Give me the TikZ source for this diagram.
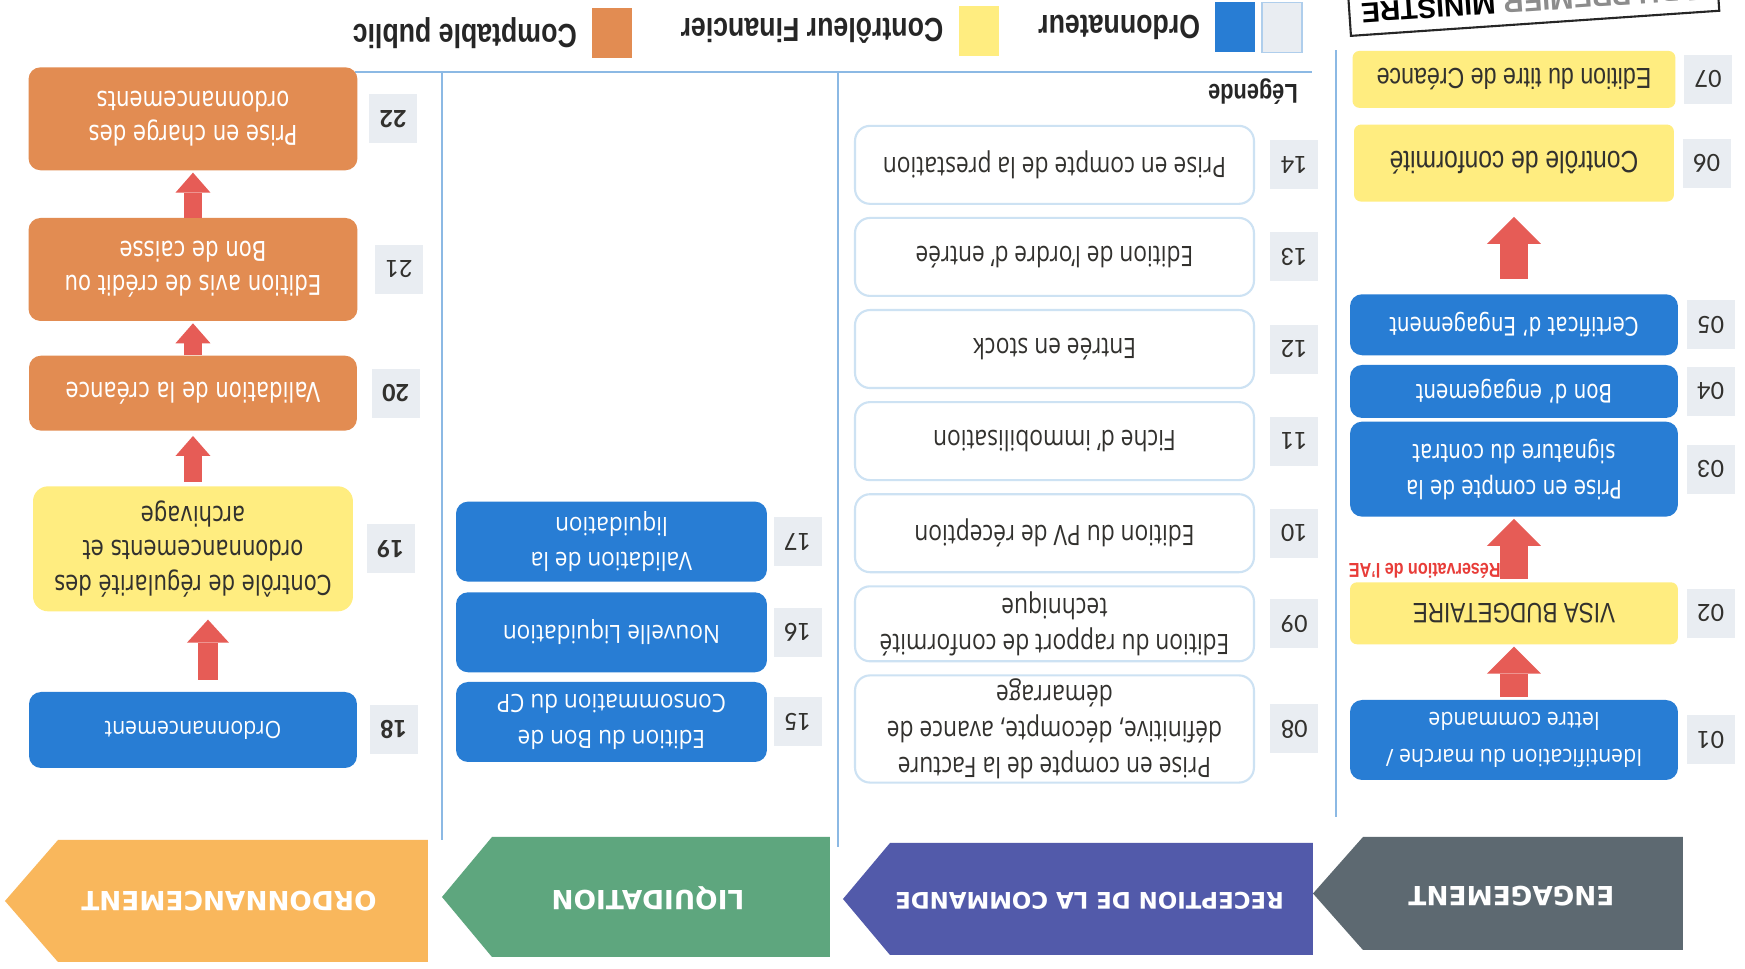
\documentclass[tikz,border=0pt]{standalone}
\usepackage{fontspec}
\setmainfont{Open Sans}
\newfontfamily\recfont[FakeStretch=0.81]{Open Sans}
\newfontfamily\liqfont[FakeStretch=0.9]{Open Sans}
\newfontfamily\verfont[FakeStretch=0.78]{DejaVu Sans}
\newfontfamily\arifont[FakeStretch=0.8]{Liberation Sans}
\newfontfamily\stampfont{Liberation Sans}
\newfontfamily\bandfont{DejaVu Sans}
\newfontfamily\numfont{Carlito}
\usetikzlibrary{positioning,arrows.meta}

\definecolor{ordoblue}{RGB}{40,125,212}
\definecolor{cfyellow}{RGB}{255,237,128}
\definecolor{cporange}{RGB}{226,140,82}
\definecolor{flowred}{RGB}{230,92,86}
\definecolor{aered}{RGB}{232,60,56}
\definecolor{badgegray}{RGB}{233,237,242}
\definecolor{rulecol}{RGB}{140,185,228}
\definecolor{recline}{RGB}{205,226,243}
\definecolor{darktext}{RGB}{50,49,46}
\definecolor{engband}{RGB}{93,105,113}
\definecolor{recband}{RGB}{82,90,170}
\definecolor{liqband}{RGB}{94,166,126}
\definecolor{ordband}{RGB}{249,183,92}

\tikzset{
  ordobox/.style={rounded corners=0.24cm, fill=ordoblue, text=white, align=center, inner sep=2pt},
  cfbox/.style={rounded corners=0.14cm, fill=cfyellow, text=darktext, align=center, inner sep=2pt},
  cpbox/.style={rounded corners=0.24cm, fill=cporange, text=white, align=center, inner sep=2pt},
  recbox/.style={rounded corners=0.3cm, fill=white, draw=recline, line width=1.2pt, text=darktext,
    align=center, inner sep=2pt, minimum width=7.98cm, font=\recfont\fontsize{16}{20.5}\selectfont},
  badge/.style={fill=badgegray, minimum width=0.96cm, minimum height=0.98cm, inner sep=0pt,
    text=darktext, font=\numfont\fontsize{15}{15}\selectfont},
  engtext/.style={font=\verfont\fontsize{14.5}{20.5}\selectfont},
  ordtext/.style={font=\verfont\fontsize{15.5}{19.5}\selectfont},
  liqtext/.style={font=\liqfont\fontsize{14.3}{20}\selectfont},
  flow/.style={draw=flowred, line width=0.36cm, -{Triangle[length=0.4cm, width=0.7cm, line width=0pt]}},
  midflow/.style={draw=flowred, line width=0.4cm, -{Triangle[length=0.46cm, width=0.84cm, line width=0pt]}},
  bigflow/.style={draw=flowred, line width=0.56cm, -{Triangle[length=0.54cm, width=1.08cm, line width=0pt]}},
  bandtitle/.style={text=white, inner sep=0pt, font=\bandfont\bfseries\fontsize{15}{15}\selectfont},
  sepline/.style={draw=rulecol, line width=1pt},
  swatch/.style={minimum width=0.8cm, minimum height=1cm, inner sep=0pt},
  legendtext/.style={inner sep=0pt, text=black!85, font=\arifont\bfseries\fontsize{19}{19}\selectfont},
}

\begin{document}
\begin{tikzpicture}[x=0.02cm, y=0.02cm]
\begin{scope}[rotate=180, transform shape]
  \useasboundingbox (0,0) rectangle (1745,-969);
  \fill[white] (0,0) rectangle (1745,-969);
  \clip (0,0) rectangle (1745,-969);

  % phase banners
  \fill[engband] (62,-19) -- (382,-19) -- (432,-75.5) -- (382,-132) -- (62,-132) -- cycle;
  \fill[recband] (432,-14) -- (855,-14) -- (902,-70) -- (855,-126) -- (432,-126) -- cycle;
  \fill[liqband] (915,-12) -- (1253,-12) -- (1303,-72) -- (1253,-132) -- (915,-132) -- cycle;
  \fill[ordband] (1317,-7) -- (1687,-7) -- (1740,-68) -- (1687,-129) -- (1317,-129) -- cycle;
  \node[bandtitle] (engtitle) at (233.5,-73) {ENGAGEMENT};
  \node[bandtitle, font=\bandfont\bfseries\fontsize{13}{13}\selectfont] (rectitle) at (655.5,-68) {RECEPTION DE LA COMMANDE};
  \node[bandtitle] (liqtitle) at (1097,-71) {LIQUIDATION};
  \node[bandtitle] (ordtitle) at (1516,-68) {ORDONNANCEMENT};

  % column rules and legend rule
  \draw[sepline] (409,-152) -- (409,-919);
  \draw[sepline] (907,-122) -- (907,-897);
  \draw[sepline] (1303,-129) -- (1303,-897);
  \draw[sepline] (433,-897) -- (1390,-897);

  % engagement
  \node[ordobox, liqtext, font=\liqfont\fontsize{13.5}{21}\selectfont, minimum width=6.56cm, minimum height=1.6cm] (b01) at (231,-229) {Identification du marche /\\lettre commande};
  \node[cfbox, font=\arifont\fontsize{16}{19}\selectfont, minimum width=6.56cm, minimum height=1.24cm, below=1.1cm of b01] (b02) {VISA BUDGETAIRE};
  \node[ordobox, engtext, minimum width=6.56cm, minimum height=1.9cm, below=1.3cm of b02] (b03) {Prise en compte de la\\signature du contrat};
  \node[ordobox, engtext, minimum width=6.56cm, minimum height=1.06cm, below=0.06cm of b03] (b04) {Bon d’ engagement};
  \node[ordobox, engtext, minimum width=6.56cm, minimum height=1.22cm, below=0.18cm of b04] (b05) {Certificat d’ Engagement};
  \node[cfbox, font=\arifont\fontsize{17.5}{21}\selectfont, minimum width=6.4cm, minimum height=1.54cm, below=1.84cm of b05] (b06) {Contrôle de conformité};
  \node[cfbox, font=\arifont\fontsize{16.5}{20}\selectfont, minimum width=6.46cm, minimum height=1.14cm, below=0.32cm of b06] (b07) {Edition du titre de Créance};

  \node[badge, left=0.16cm of b01] (n01) {01};
  \node[badge, left=0.16cm of b02] (n02) {02};
  \node[badge, left=0.16cm of b03] (n03) {03};
  \node[badge, left=0.16cm of b04] (n04) {04};
  \node[badge, left=0.16cm of b05] (n05) {05};
  \node[badge, left=0.16cm of b06] (n06) {06};
  \node[badge, left=0.16cm of b07] (n07) {07};

  \draw[bigflow, shorten <=0.06cm, shorten >=0.04cm] (b01.south) -- (b02.north);
  \draw[bigflow, shorten <=0.06cm, shorten >=0.04cm] (b02.south) -- (b03.north);
  \draw[bigflow, shorten <=0.3cm, shorten >=0.3cm] (b05.south) -- (b06.north);
  \node[anchor=north west, inner sep=0pt, text=aered, font=\arifont\bfseries\fontsize{11.5}{11.5}\selectfont]
    (aelabel) at ([xshift=0.26cm, yshift=-0.06cm]b02.south) {Réservation de l’AE};

  % reception de la commande
  \node[recbox, minimum height=2.12cm] (r08) at (690.5,-240) {Prise en compte de la Facture\\définitive, décompte, avance de\\démarrage};
  \node[recbox, minimum height=1.5cm, below=0.24cm of r08] (r09) {Edition du rapport de conformité\\technique};
  \node[recbox, minimum height=1.56cm, below=0.24cm of r09] (r10) {Edition du PV de réception};
  \node[recbox, minimum height=1.56cm, below=0.24cm of r10] (r11) {Fiche d’ immobilisation};
  \node[recbox, minimum height=1.56cm, below=0.24cm of r11] (r12) {Entrée en stock};
  \node[recbox, minimum height=1.56cm, below=0.24cm of r12] (r13) {Edition de l’ordre d’ entrée};
  \node[recbox, minimum height=1.56cm, below=0.24cm of r13] (r14) {Prise en compte de la prestation};

  \node[badge, left=0.3cm of r08] (n08) {08};
  \node[badge, left=0.3cm of r09] (n09) {09};
  \node[badge, left=0.3cm of r10] (n10) {10};
  \node[badge, left=0.3cm of r11] (n11) {11};
  \node[badge, left=0.3cm of r12] (n12) {12};
  \node[badge, left=0.3cm of r13] (n13) {13};
  \node[badge, left=0.3cm of r14] (n14) {14};

  % liquidation
  \node[ordobox, liqtext, minimum width=6.22cm, minimum height=1.6cm] (l15) at (1133.5,-247) {Edition du Bon de\\Consommation du CP};
  \node[ordobox, liqtext, minimum width=6.22cm, minimum height=1.6cm, below=0.18cm of l15] (l16) {Nouvelle Liquidation};
  \node[ordobox, liqtext, minimum width=6.22cm, minimum height=1.6cm, below=0.2cm of l16] (l17) {Validation de la\\liquidation};

  \node[badge, left=0.12cm of l15] (n15) {15};
  \node[badge, left=0.12cm of l16] (n16) {16};
  \node[badge, left=0.12cm of l17] (n17) {17};

  % ordonnancement
  \node[ordobox, font=\liqfont\fontsize{13.5}{16}\selectfont, minimum width=6.56cm, minimum height=1.52cm] (o18) at (1552,-239) {Ordonnancement};
  \node[cfbox, ordtext, rounded corners=0.3cm, minimum width=6.4cm, minimum height=2.5cm, below=1.6cm of o18] (o19) {Contrôle de régularité des\\ordonnancements et\\archivage};
  \node[cpbox, ordtext, minimum width=6.56cm, minimum height=1.5cm, below=1.1cm of o19] (o20) {Validation de la créance};
  \node[cpbox, ordtext, minimum width=6.58cm, minimum height=2.06cm, below=0.68cm of o20] (o21) {Edition avis de crédit ou\\Bon de caisse};
  \node[cpbox, ordtext, minimum width=6.58cm, minimum height=2.06cm, below=0.94cm of o21] (o22) {Prise en charge des\\ordonnancements};

  \node[badge, font=\numfont\bfseries\fontsize{15}{15}\selectfont, left=0.24cm of o18] (n18) {18};
  \node[badge, font=\numfont\bfseries\fontsize{15}{15}\selectfont, left=0.26cm of o19] (n19) {19};
  \node[badge, font=\numfont\bfseries\fontsize{15}{15}\selectfont, left=0.28cm of o20] (n20) {20};
  \node[badge, font=\numfont\fontsize{15}{15}\selectfont, left=0.34cm of o21] (n21) {21};
  \node[badge, font=\numfont\bfseries\fontsize{15}{15}\selectfont, left=0.22cm of o22] (n22) {22};

  \draw[midflow, shorten <=0.24cm, shorten >=0.16cm] ([xshift=-0.3cm]o18.south) -- ([xshift=-0.3cm]o19.north);
  \draw[flow, shorten <=0.08cm, shorten >=0.1cm] (o19.south) -- (o20.north);
  \draw[flow, shorten >=0.04cm] (o20.south) -- (o21.north);
  \draw[flow, shorten >=0.04cm] (o21.south) -- (o22.north);

  % legend
  \node[inner sep=0pt, text=black!85, font=\arifont\bfseries\fontsize{15.5}{15.5}\selectfont] (legtitle) at (492,-877.5) {Légende};
  \node[swatch, fill=badgegray, draw=rulecol!70, line width=1pt] (swlight) at (463,-941.5) {};
  \node[swatch, fill=ordoblue, right=0.12cm of swlight] (swblue) {};
  \node[legendtext, right=0.28cm of swblue] (legordo) {Ordonnateur};
  \node[swatch, fill=cfyellow] (swyellow) at (766,-938) {};
  \node[legendtext, right=0.3cm of swyellow] (legcf) {Contrôleur Financier};
  \node[swatch, fill=cporange] (sworange) at (1132.5,-936) {};
  \node[legendtext, right=0.3cm of sworange] (legcp) {Comptable public};

  % stamp in the corner
  \node[draw=black!85, line width=1.2pt, rotate=3.9, anchor=north east, inner xsep=0.24cm, inner ysep=0.24cm,
    font=\stampfont\bfseries\fontsize{16}{16}\selectfont] (stamp) at (395,-932)
    {\textcolor{black!45}{E DU PREMIER} MINISTRE};
\end{scope}
\end{tikzpicture}
\end{document}
